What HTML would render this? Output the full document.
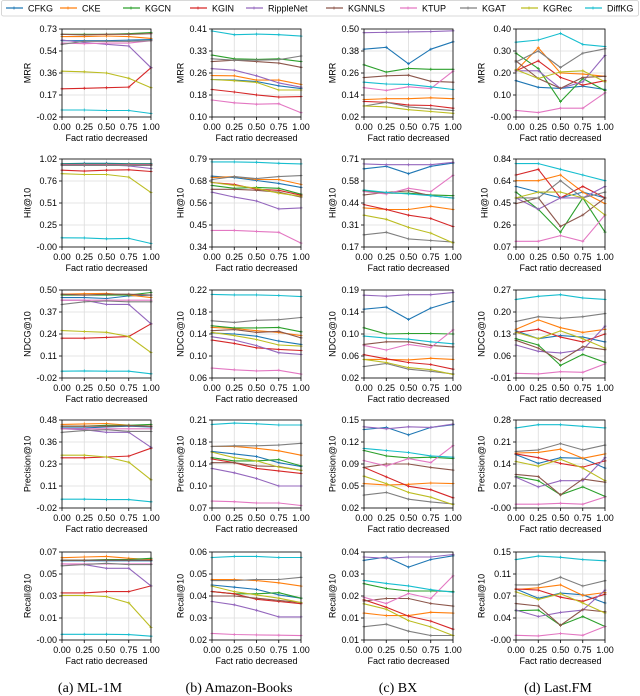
<!DOCTYPE html>
<html><head><meta charset="utf-8"><style>
body{margin:0;background:#fff;}
svg{display:block;font-family:"Liberation Sans",sans-serif;}
</style></head><body>
<svg id="chart" width="640" height="696" viewBox="0 0 640 696" xmlns="http://www.w3.org/2000/svg"></svg>
<script>
const seriesNames = ["CFKG","CKE","KGCN","KGIN","RippleNet","KGNNLS","KTUP","KGAT","KGRec","DiffKG"];
const seriesColors = ["#1f77b4","#ff7f0e","#2ca02c","#d62728","#9467bd","#8c564b","#e377c2","#7f7f7f","#bcbd22","#17becf"];
const xValues = [0,0.25,0.5,0.75,1];
const xTickLabels = ["0.00","0.25","0.50","0.75","1.00"];
const datasets = ["(a) ML-1M","(b) Amazon-Books","(c) BX","(d) Last.FM"];
const metrics = ["MRR","Hit@10","NDCG@10","Precision@10","Recall@10"];

// y ranges [min,max] per metric row, per dataset column
const yRanges = [
 [[-0.02,0.73],[0.10,0.41],[0.02,0.50],[0,0.40]],
 [[0,1.02],[0.34,0.79],[0.17,0.71],[0.07,0.84]],
 [[-0.02,0.50],[0.06,0.22],[0.02,0.19],[-0.01,0.27]],
 [[-0.02,0.48],[0.07,0.21],[0.02,0.15],[0,0.28]],
 [[0,0.07],[0.02,0.06],[0.005,0.04],[0,0.15]]
];
const yTickLabels = [
 [["-0.02","0.17","0.36","0.54","0.73"],["0.10","0.18","0.26","0.33","0.41"],["0.02","0.14","0.26","0.38","0.50"],["-0.00","0.10","0.20","0.30","0.40"]],
 [["-0.00","0.25","0.51","0.76","1.02"],["0.34","0.45","0.56","0.68","0.79"],["0.17","0.31","0.44","0.58","0.71"],["0.07","0.26","0.45","0.64","0.84"]],
 [["-0.02","0.11","0.24","0.37","0.50"],["0.06","0.10","0.14","0.18","0.22"],["0.02","0.06","0.10","0.14","0.19"],["-0.01","0.06","0.13","0.20","0.27"]],
 [["-0.02","0.11","0.23","0.36","0.48"],["0.07","0.10","0.14","0.18","0.21"],["0.02","0.05","0.09","0.12","0.15"],["-0.00","0.07","0.14","0.21","0.28"]],
 [["-0.00","0.01","0.03","0.05","0.07"],["0.02","0.03","0.04","0.05","0.06"],["0.01","0.01","0.02","0.03","0.04"],["-0.00","0.04","0.07","0.11","0.15"]]
];

// series order: CFKG, CKE, KGCN, KGIN, RippleNet, KGNNLS, KTUP, KGAT, KGRec, DiffKG
const mrrML = [[0.63,0.63,0.63,0.635,0.64],[0.665,0.665,0.67,0.665,0.65],[0.685,0.685,0.685,0.69,0.70],[0.22,0.225,0.23,0.235,0.40],[0.635,0.615,0.60,0.585,0.40],[0.685,0.68,0.685,0.685,0.69],[0.61,0.605,0.61,0.61,0.63],[0.60,0.625,0.625,0.625,0.63],[0.37,0.365,0.355,0.31,0.23],[0.04,0.04,0.035,0.035,0.01]];
const mrrAB = [[0.232,0.23,0.225,0.21,0.20],[0.246,0.245,0.23,0.23,0.215],[0.318,0.305,0.303,0.305,0.295],[0.197,0.188,0.178,0.17,0.172],[0.27,0.265,0.245,0.22,0.205],[0.295,0.30,0.295,0.29,0.275],[0.16,0.15,0.145,0.147,0.115],[0.305,0.30,0.30,0.302,0.315],[0.232,0.228,0.222,0.195,0.195],[0.403,0.39,0.392,0.39,0.385]];
const mrrBX = [[0.39,0.40,0.31,0.39,0.43],[0.115,0.12,0.12,0.125,0.12],[0.305,0.265,0.285,0.28,0.28],[0.105,0.10,0.085,0.083,0.068],[0.48,0.482,0.484,0.486,0.49],[0.235,0.245,0.248,0.215,0.21],[0.18,0.165,0.185,0.175,0.27],[0.08,0.10,0.075,0.065,0.055],[0.08,0.075,0.06,0.05,0.04],[0.21,0.20,0.198,0.185,0.17]];
const mrrFM = [[0.165,0.135,0.13,0.14,0.125],[0.21,0.315,0.20,0.195,0.185],[0.29,0.22,0.07,0.175,0.12],[0.21,0.255,0.18,0.145,0.165],[0.21,0.21,0.13,0.16,0.28],[0.255,0.175,0.13,0.18,0.185],[0.03,0.02,0.04,0.04,0.11],[0.25,0.30,0.225,0.29,0.31],[0.215,0.175,0.205,0.21,0.16],[0.34,0.35,0.38,0.33,0.32]];

const hitML = [[0.965,0.97,0.97,0.965,0.965],[0.955,0.955,0.955,0.955,0.95],[0.96,0.96,0.96,0.96,0.96],[0.89,0.88,0.89,0.895,0.875],[0.95,0.95,0.95,0.94,0.91],[0.955,0.955,0.955,0.955,0.955],[0.95,0.95,0.95,0.95,0.95],[0.945,0.945,0.945,0.945,0.945],[0.85,0.84,0.84,0.81,0.63],[0.107,0.105,0.095,0.10,0.04]];
const hitAB = [[0.702,0.695,0.68,0.665,0.645],[0.695,0.70,0.685,0.685,0.66],[0.655,0.64,0.645,0.64,0.61],[0.67,0.66,0.635,0.63,0.605],[0.62,0.595,0.575,0.535,0.54],[0.635,0.635,0.63,0.62,0.595],[0.425,0.425,0.42,0.415,0.36],[0.685,0.70,0.69,0.70,0.705],[0.67,0.655,0.64,0.615,0.60],[0.775,0.775,0.773,0.768,0.765]];
const hitBX = [[0.65,0.665,0.62,0.665,0.685],[0.41,0.40,0.40,0.42,0.40],[0.515,0.50,0.50,0.49,0.485],[0.43,0.40,0.365,0.345,0.295],[0.68,0.675,0.675,0.675,0.69],[0.49,0.505,0.515,0.485,0.47],[0.51,0.495,0.53,0.51,0.61],[0.245,0.26,0.22,0.21,0.20],[0.365,0.34,0.29,0.255,0.195],[0.52,0.505,0.495,0.485,0.47]];
const hitFM = [[0.60,0.55,0.50,0.55,0.50],[0.65,0.65,0.70,0.55,0.45],[0.55,0.40,0.20,0.50,0.20],[0.70,0.75,0.50,0.60,0.50],[0.50,0.40,0.50,0.50,0.60],[0.45,0.50,0.25,0.35,0.50],[0.12,0.12,0.17,0.12,0.35],[0.50,0.50,0.65,0.50,0.55],[0.50,0.55,0.55,0.50,0.35],[0.80,0.80,0.75,0.70,0.65]];

const ndcgML = [[0.455,0.455,0.45,0.465,0.47],[0.475,0.478,0.48,0.47,0.455],[0.47,0.47,0.47,0.47,0.485],[0.215,0.215,0.22,0.225,0.30],[0.44,0.44,0.415,0.415,0.30],[0.475,0.47,0.475,0.475,0.47],[0.44,0.44,0.44,0.44,0.44],[0.415,0.43,0.435,0.43,0.43],[0.26,0.255,0.25,0.225,0.13],[0.02,0.022,0.02,0.02,0.005]];
const ndcgAB = [[0.142,0.14,0.136,0.127,0.121],[0.152,0.15,0.146,0.143,0.137],[0.155,0.151,0.151,0.152,0.144],[0.129,0.123,0.115,0.112,0.11],[0.135,0.129,0.119,0.106,0.103],[0.146,0.148,0.143,0.145,0.133],[0.078,0.075,0.073,0.074,0.067],[0.164,0.161,0.165,0.166,0.17],[0.143,0.137,0.13,0.12,0.118],[0.212,0.211,0.211,0.21,0.208]];
const ndcgBX = [[0.153,0.157,0.133,0.155,0.168],[0.056,0.056,0.055,0.058,0.056],[0.117,0.105,0.106,0.106,0.105],[0.065,0.057,0.05,0.046,0.037],[0.18,0.178,0.181,0.181,0.185],[0.085,0.09,0.09,0.083,0.08],[0.083,0.074,0.085,0.079,0.113],[0.042,0.048,0.037,0.033,0.028],[0.056,0.05,0.04,0.036,0.027],[0.101,0.097,0.095,0.09,0.086]];
const ndcgFM = [[0.14,0.115,0.125,0.12,0.105],[0.145,0.175,0.15,0.135,0.145],[0.115,0.095,0.03,0.065,0.04],[0.135,0.145,0.12,0.105,0.13],[0.095,0.075,0.07,0.08,0.155],[0.11,0.085,0.045,0.09,0.08],[0.005,0.003,0.01,0.008,0.035],[0.17,0.185,0.18,0.185,0.195],[0.135,0.115,0.14,0.115,0.085],[0.24,0.25,0.255,0.245,0.24]];

const precML = [[0.435,0.435,0.44,0.445,0.44],[0.455,0.458,0.46,0.45,0.445],[0.445,0.445,0.45,0.45,0.455],[0.265,0.265,0.27,0.275,0.32],[0.43,0.425,0.41,0.41,0.325],[0.445,0.445,0.445,0.448,0.445],[0.43,0.43,0.43,0.43,0.43],[0.41,0.42,0.425,0.415,0.415],[0.28,0.28,0.27,0.24,0.14],[0.03,0.03,0.028,0.028,0.015]];
const precAB = [[0.16,0.156,0.152,0.142,0.136],[0.168,0.168,0.165,0.161,0.154],[0.15,0.145,0.145,0.147,0.137],[0.148,0.142,0.133,0.129,0.125],[0.133,0.126,0.117,0.105,0.105],[0.142,0.142,0.137,0.136,0.13],[0.081,0.08,0.078,0.078,0.074],[0.168,0.169,0.169,0.17,0.173],[0.159,0.15,0.145,0.135,0.13],[0.203,0.205,0.204,0.202,0.202]];
const precBX = [[0.136,0.139,0.128,0.139,0.143],[0.056,0.054,0.055,0.057,0.056],[0.105,0.097,0.094,0.095,0.093],[0.08,0.066,0.052,0.047,0.035],[0.14,0.137,0.14,0.139,0.144],[0.08,0.085,0.085,0.08,0.076],[0.09,0.082,0.093,0.087,0.112],[0.039,0.043,0.033,0.029,0.026],[0.067,0.056,0.043,0.036,0.025],[0.108,0.105,0.102,0.097,0.095]];
const precFM = [[0.17,0.142,0.16,0.158,0.127],[0.175,0.177,0.187,0.158,0.172],[0.1,0.087,0.042,0.067,0.037],[0.172,0.16,0.142,0.13,0.15],[0.098,0.067,0.087,0.087,0.16],[0.107,0.1,0.042,0.092,0.082],[0.012,0.012,0.015,0.012,0.035],[0.18,0.185,0.205,0.185,0.20],[0.148,0.133,0.155,0.127,0.087],[0.255,0.265,0.265,0.26,0.255]];

const recML = [[0.063,0.063,0.063,0.063,0.063],[0.0655,0.066,0.0665,0.065,0.064],[0.0635,0.0635,0.064,0.064,0.065],[0.0375,0.0375,0.0385,0.0385,0.043],[0.0605,0.06,0.057,0.057,0.043],[0.0635,0.0635,0.0635,0.0635,0.0635],[0.0605,0.0605,0.0605,0.0605,0.0605],[0.059,0.06,0.061,0.06,0.06],[0.0355,0.0355,0.0345,0.0295,0.01],[0.0045,0.0045,0.0045,0.0043,0.003]];
const recAB = [[0.045,0.044,0.043,0.0405,0.039],[0.0475,0.0475,0.047,0.046,0.0445],[0.042,0.041,0.041,0.0415,0.039],[0.042,0.041,0.0385,0.0375,0.0365],[0.0375,0.036,0.0335,0.0305,0.0305],[0.040,0.040,0.039,0.038,0.037],[0.023,0.0225,0.0223,0.0222,0.022],[0.047,0.047,0.0475,0.0475,0.0485],[0.0445,0.042,0.0405,0.039,0.037],[0.0575,0.058,0.058,0.0575,0.0575]];
const recBX = [[0.0367,0.038,0.034,0.037,0.0385],[0.0157,0.0147,0.0147,0.016,0.0157],[0.0274,0.0255,0.0245,0.0245,0.0243],[0.021,0.018,0.0145,0.0125,0.0093],[0.038,0.0375,0.038,0.038,0.039],[0.0205,0.0215,0.0215,0.0195,0.0185],[0.022,0.0195,0.0235,0.0215,0.0305],[0.0103,0.0113,0.0085,0.0068,0.0068],[0.0194,0.0172,0.0127,0.0102,0.0068],[0.0287,0.0275,0.0265,0.025,0.024]];
const recFM = [[0.087,0.071,0.08,0.077,0.063],[0.086,0.089,0.094,0.076,0.081],[0.05,0.051,0.025,0.04,0.023],[0.087,0.085,0.073,0.066,0.078],[0.051,0.04,0.047,0.051,0.085],[0.062,0.058,0.025,0.052,0.048],[0.008,0.007,0.011,0.008,0.023],[0.094,0.094,0.107,0.092,0.101],[0.082,0.069,0.079,0.063,0.046],[0.137,0.143,0.141,0.137,0.135]];

const panelData = [
 [mrrML,mrrAB,mrrBX,mrrFM],
 [hitML,hitAB,hitBX,hitFM],
 [ndcgML,ndcgAB,ndcgBX,ndcgFM],
 [precML,precAB,precBX,precFM],
 [recML,recAB,recBX,recFM]
];

const NS="http://www.w3.org/2000/svg";
const svg=document.getElementById('chart');
function mk(tag,attrs,parent){const e=document.createElementNS(NS,tag);for(const k in attrs)e.setAttribute(k,attrs[k]);(parent||svg).appendChild(e);return e;}
function txt(s,attrs,parent){const e=mk('text',attrs,parent);e.textContent=s;return e;}

const colLeft=[62,212,364,516], plotW=89;
const rowTop=[29,159,290,420,552], plotH=88;
const captionX=[90,239,398,558];

// legend
const leg=mk('g',{});


const lb=mk('rect',{x:1.5,y:0.5,width:637,height:15.5,rx:2,fill:'#fff',stroke:'#ccc','stroke-width':0.8},leg);


const legTextX=[28,82,145,212,268,348,422,482,543,607];
seriesNames.forEach((n,i)=>{
  const g=mk('g',{},leg);
  
  
  const tx=legTextX[i];
  mk('line',{x1:tx-22,y1:8,x2:tx-5,y2:8,stroke:seriesColors[i],'stroke-width':1.2},g);
  mk('path',{d:`M${tx-15.5} 8h3M${tx-14} 6.5v3`,stroke:seriesColors[i],'stroke-width':0.8},g);
  txt(n,{x:tx,y:11.5,'font-size':9,fill:'#000'},g);
});

function tw(s){let w=0;for(const c of s){w+= (c==='.')?2.5:(c==='-')?3:5;}return w;}

for(let r=0;r<5;r++){
 for(let c=0;c<4;c++){
  const L=colLeft[c],T=rowTop[r];
  const [ymin,ymax]=yRanges[r][c];
  const xs=v=>L+v*plotW;
  const ys=v=>T+plotH-(v-ymin)/(ymax-ymin)*plotH;
  const g=mk('g',{});
  
  
  // grid
  const ticks=yTickLabels[r][c];
  let maxw=0;
  ticks.forEach((lab,i)=>{
    const y=T+plotH-i*plotH/4;
    mk('line',{x1:L,y1:y,x2:L+plotW,y2:y,stroke:'#dcdcdc','stroke-width':0.8},g);
    mk('line',{x1:L-3,y1:y,x2:L,y2:y,stroke:'#000','stroke-width':0.8},g);
    const t=txt(lab,{x:L-5,y:y+3.2,'font-size':9,'text-anchor':'end',fill:'#000'},g);
    
    
    maxw=Math.max(maxw,tw(lab));
  });
  xValues.forEach((v,i)=>{
    const x=xs(v);
    mk('line',{x1:x,y1:T,x2:x,y2:T+plotH,stroke:'#dcdcdc','stroke-width':0.8},g);
    mk('line',{x1:x,y1:T+plotH,x2:x,y2:T+plotH+3,stroke:'#000','stroke-width':0.8},g);
    const t=txt(xTickLabels[i],{x:x,y:T+plotH+13,'font-size':9,'text-anchor':'middle',fill:'#000'},g);
    
    
  });
  // series
  panelData[r][c].forEach((vals,si)=>{
    const pts=vals.map((v,i)=>xs(xValues[i]).toFixed(1)+','+ys(v).toFixed(1)).join(' ');
    const pl=mk('polyline',{points:pts,fill:'none',stroke:seriesColors[si],'stroke-width':1.1,'stroke-linejoin':'round'},g);
    
    
    let d='';
    vals.forEach((v,i)=>{const x=xs(xValues[i]),y=ys(v);d+=`M${(x-1.5).toFixed(1)} ${y.toFixed(1)}h3M${x.toFixed(1)} ${(y-1.5).toFixed(1)}v3`;});
    const mp=mk('path',{d:d,stroke:seriesColors[si],'stroke-width':0.8},g);
    
    
  });
  const fr=mk('rect',{x:L,y:T,width:plotW,height:plotH,fill:'none',stroke:'#000','stroke-width':0.8},g);
  
  
  const xl=txt('Fact ratio decreased',{x:L+plotW/2,y:T+plotH+24,'font-size':9,'text-anchor':'middle',fill:'#000'},g);
  
  
  const yx=L-maxw-11;
  const yl=txt(metrics[r],{x:yx,y:T+plotH/2,'font-size':9,'text-anchor':'middle',fill:'#000',transform:`rotate(-90 ${yx} ${T+plotH/2})`},g);
  
  
 }
}
datasets.forEach((d,c)=>{
  const t=txt(d,{x:captionX[c],y:692,'font-size':14,'text-anchor':'middle',fill:'#000','font-family':'"Liberation Serif",serif'});
  
  
});
</script>
</body></html>
